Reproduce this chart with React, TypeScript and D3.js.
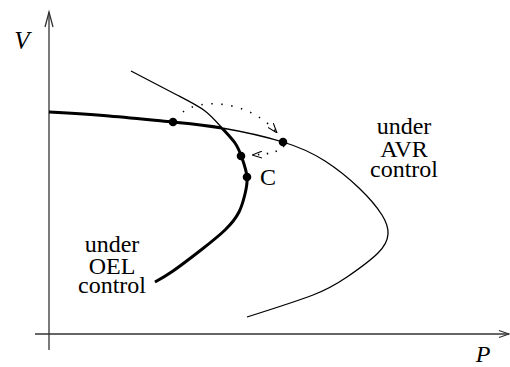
import React from "react";
import * as d3 from "d3";

// Canvas
const W = 510;
const H = 367;

// Axis extents (P, V in arbitrary units)
const pDomain = [0, 46];
const vDomain = [0, 32.2];

// AVR characteristic: upper branch, nose, lower branch
const avrP = [0, 6.0, 12.4, 17.3, 23.4, 27.6, 31.0, 33.3, 33.9, 32.9, 29.8, 26.4, 19.8];
const avrV = [22.2, 21.8, 21.2, 20.6, 19.2, 17.3, 14.6, 11.9, 10.0, 8.1, 5.7, 3.9, 1.7];

// OEL characteristic
const oelP = [8.2, 12.8, 15.6, 17.3, 18.6, 19.3, 19.8, 19.6, 19.0, 17.6, 15.2, 12.4, 10.6];
const oelV = [26.3, 23.9, 22.3, 20.6, 19.1, 17.6, 15.7, 14.0, 12.2, 10.4, 8.4, 6.3, 5.2];

// Switch-over point where the active characteristic changes
const crossP = 17.3;
const crossV = 20.6;

// Marked operating points
const dotP = [12.4, 23.4, 19.2, 19.8];
const dotV = [21.2, 19.2, 17.8, 15.7];

// Dotted transition arrows (start, control(s), end)
const jumpUpP = [13.4, 15.1, 20.1, 22.8];
const jumpUpV = [22.2, 23.6, 23.4, 20.1];
const jumpBackP = [23.5, 22.9, 20.3];
const jumpBackV = [18.8, 18.0, 17.9];

const avrLabel = ["under", "AVR", "control"];
const oelLabel = ["under", "OEL", "control"];

export default function App() {
  const x = d3.scaleLinear().domain(pDomain).range([49, 509]);
  const y = d3.scaleLinear().domain(vDomain).range([334, 12]);

  const line = d3
    .line<[number, number]>()
    .x((d) => x(d[0]))
    .y((d) => y(d[1]))
    .curve(d3.curveNatural);

  const avrPts = avrP.map((p, i) => [p, avrV[i]] as [number, number]);
  const oelPts = oelP.map((p, i) => [p, oelV[i]] as [number, number]);
  const avrPath = line(avrPts) || "";
  const oelPath = line(oelPts) || "";

  const cx = x(crossP);
  const cy = y(crossV);

  const up = jumpUpP.map((p, i) => [x(p), y(jumpUpV[i])]);
  const upPath = `M${up[0][0]},${up[0][1]} C${up[1][0]},${up[1][1]} ${up[2][0]},${up[2][1]} ${up[3][0]},${up[3][1]}`;
  const back = jumpBackP.map((p, i) => [x(p), y(jumpBackV[i])]);
  const backPath = `M${back[0][0]},${back[0][1]} Q${back[1][0]},${back[1][1]} ${back[2][0]},${back[2][1]}`;

  const serif = "'Liberation Serif', 'Times New Roman', serif";
  const x0 = x(0);
  const y0 = y(0);

  return (
    <svg
      width={W}
      height={H}
      style={{ position: "absolute", left: 0, top: 0, display: "block", background: "#fff" }}
    >
      <defs>
        <clipPath id="leftOfSwitch">
          <rect x={0} y={0} width={cx} height={H} />
        </clipPath>
        <clipPath id="belowSwitch">
          <rect x={0} y={cy} width={W} height={H - cy} />
        </clipPath>
        <marker
          id="openHead"
          viewBox="0 0 10 8"
          refX={10}
          refY={4}
          markerWidth={10}
          markerHeight={8}
          markerUnits="userSpaceOnUse"
          orient="auto"
        >
          <path d="M0,0.6 L10,4 L0,7.4" fill="none" stroke="#000" strokeWidth={1.1} />
        </marker>
      </defs>

      {/* Axes */}
      <g stroke="#333" strokeWidth={1.3} fill="none">
        <line x1={x0} y1={350} x2={x0} y2={12} />
        <path d={`M${x0 - 4},${27} L${x0},${12} L${x0 + 4},${27}`} />
        <line x1={35} y1={y0} x2={509} y2={y0} />
        <path d={`M${499},${y0 - 3.5} L${509},${y0} L${499},${y0 + 3.5}`} />
      </g>
      <text x={22} y={49} fontFamily={serif} fontStyle="italic" fontSize={25} textAnchor="middle">
        V
      </text>
      <text x={483} y={362} fontFamily={serif} fontStyle="italic" fontSize={24} textAnchor="middle">
        P
      </text>

      {/* Thin full characteristics */}
      <path d={avrPath} fill="none" stroke="#000" strokeWidth={1.3} />
      <path d={oelPath} fill="none" stroke="#000" strokeWidth={1.3} />

      {/* Active characteristic drawn heavy */}
      <path d={avrPath} fill="none" stroke="#000" strokeWidth={3} clipPath="url(#leftOfSwitch)" />
      <path d={oelPath} fill="none" stroke="#000" strokeWidth={3} clipPath="url(#belowSwitch)" />

      {/* Transition arrows */}
      <path
        d={upPath}
        fill="none"
        stroke="#000"
        strokeWidth={1.6}
        strokeDasharray="1.4 8.6"
        markerEnd="url(#openHead)"
      />
      <path
        d={backPath}
        fill="none"
        stroke="#000"
        strokeWidth={1.6}
        strokeDasharray="1.4 7.6"
        markerEnd="url(#openHead)"
      />

      {/* Operating points */}
      {dotP.map((p, i) => (
        <circle key={i} cx={x(p)} cy={y(dotV[i])} r={4.3} fill="#000" />
      ))}

      <text x={268} y={185} fontFamily={serif} fontSize={24} textAnchor="middle">
        C
      </text>

      <text fontFamily={serif} fontSize={24} textAnchor="middle">
        {avrLabel.map((t, i) => (
          <tspan key={i} x={404} y={[134, 157, 177][i]}>
            {t}
          </tspan>
        ))}
      </text>
      <text fontFamily={serif} fontSize={24} textAnchor="middle">
        {oelLabel.map((t, i) => (
          <tspan key={i} x={112} y={[252, 274, 293][i]}>
            {t}
          </tspan>
        ))}
      </text>
    </svg>
  );
}
